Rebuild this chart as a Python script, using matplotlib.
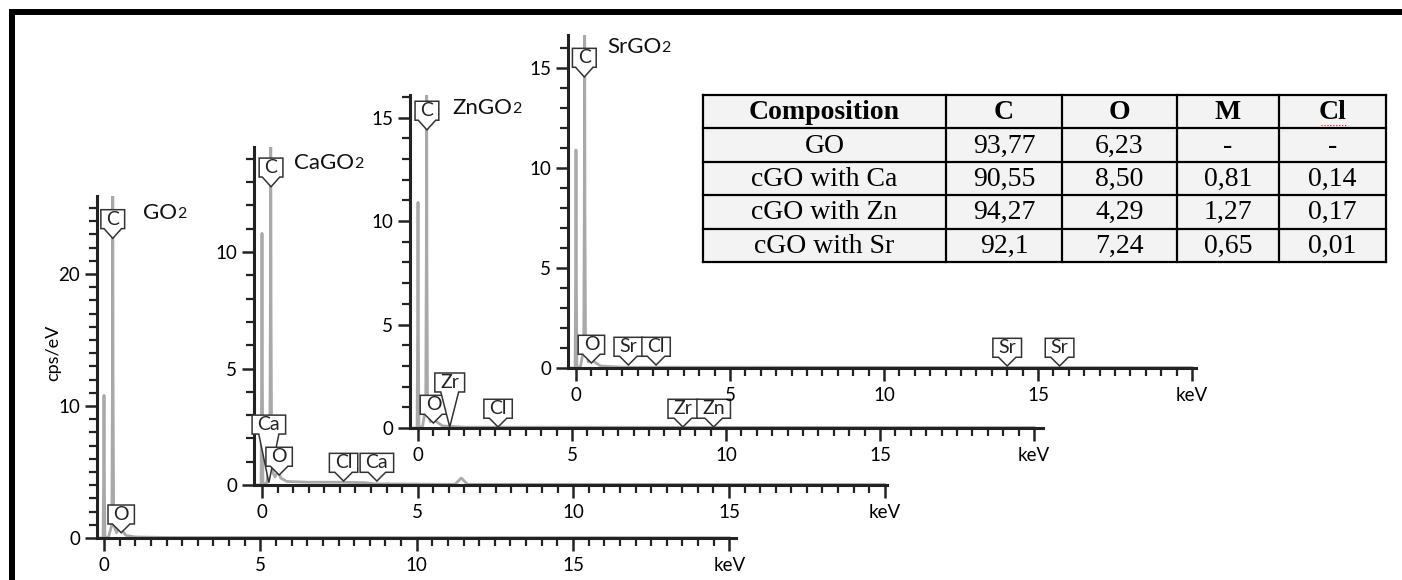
import matplotlib
matplotlib.use("Agg")
import matplotlib.pyplot as plt
from matplotlib.path import Path
from matplotlib.patches import Rectangle
from matplotlib.ticker import MultipleLocator

plt.rcParams['font.family'] = ['Lato', 'DejaVu Sans']

W, H = 1402, 580

# spectra, energy (keV) and counts (cps/eV)
go_e = [-0.2, -0.03, -0.01, 0.0, 0.01, 0.03, 0.15, 0.25, 0.27, 0.28, 0.29, 0.31, 0.4, 0.47, 0.52, 0.57, 0.7, 1.0, 2.0, 20.0]
go_c = [0.0, 0.0, 5.0, 10.8, 5.0, 0.0, 0.1, 1.0, 12.0, 30.0, 12.0, 1.0, 0.4, 0.7, 0.9, 0.6, 0.2, 0.08, 0.04, 0.02]

ca_e = [-0.2, -0.03, -0.01, 0.0, 0.01, 0.03, 0.15, 0.25, 0.27, 0.28, 0.29, 0.31, 0.36, 0.42, 0.52, 0.6, 0.8, 1.5, 2.5, 3.3, 3.6, 6.2, 6.4, 6.6, 20.0]
ca_c = [0.0, 0.0, 5.0, 10.8, 5.0, 0.0, 0.1, 1.0, 8.0, 20.0, 8.0, 1.0, 0.5, 0.35, 0.6, 0.3, 0.15, 0.12, 0.12, 0.1, 0.05, 0.03, 0.3, 0.03, 0.02]

zn_e = [-0.2, -0.03, -0.01, 0.0, 0.01, 0.03, 0.15, 0.25, 0.27, 0.28, 0.29, 0.31, 0.4, 0.47, 0.52, 0.6, 0.8, 1.5, 20.0]
zn_c = [0.0, 0.0, 5.0, 10.9, 5.0, 0.0, 0.1, 1.0, 8.0, 20.0, 8.0, 1.0, 0.3, 0.45, 0.5, 0.3, 0.1, 0.04, 0.02]

sr_e = [-0.2, -0.03, -0.01, 0.0, 0.01, 0.03, 0.15, 0.25, 0.27, 0.28, 0.29, 0.31, 0.4, 0.47, 0.52, 0.6, 0.8, 1.5, 20.0]
sr_c = [0.0, 0.0, 5.0, 10.9, 5.0, 0.0, 0.1, 1.0, 8.0, 20.0, 8.0, 1.0, 0.3, 0.4, 0.45, 0.3, 0.1, 0.04, 0.02]

# peak markers: symbol, energy, tip height, tail length
go_lab = [('C', 0.28, 22.7, 0.5), ('O', 0.55, 0.4, 0.45)]
ca_lab = [('C', 0.29, 12.8, 0.5), ('Ca', 0.22, 0.1, 2.5), ('O', 0.55, 0.43, 0.45),
          ('Cl', 2.62, 0.17, 0.45), ('Ca', 3.69, 0.17, 0.45)]
zn_lab = [('C', 0.29, 14.4, 0.5), ('O', 0.5, 0.24, 0.45), ('Zr', 1.03, 0.05, 1.8),
          ('Cl', 2.6, 0.05, 0.45), ('Zr', 8.6, 0.05, 0.45), ('Zn', 9.6, 0.05, 0.45)]
sr_lab = [('C', 0.27, 14.55, 0.5), ('O', 0.5, 0.25, 0.45), ('Sr', 1.7, 0.15, 0.45),
          ('Cl', 2.6, 0.15, 0.45), ('Sr', 14.0, 0.1, 0.45), ('Sr', 15.7, 0.1, 0.45)]

# table
tab_head = ['Composition', 'C', 'O', 'M', 'Cl']
tab_name = ['GO', 'cGO with Ca', 'cGO with Zn', 'cGO with Sr']
tab_c = ['93,77', '90,55', '94,27', '92,1']
tab_o = ['6,23', '8,50', '4,29', '7,24']
tab_m = ['-', '0,81', '1,27', '0,65']
tab_cl = ['-', '0,14', '0,17', '0,01']

PADX, PADY = 0.28, 0.05


def callout(tail):
    def style(x0, y0, w, h, ms):
        x0, w = x0 - PADX * ms, w + 2 * PADX * ms
        y0, h = y0 - PADY * ms, h + 2 * PADY * ms
        xm = x0 + w / 2
        if tail > 1:
            half = 0.3 * w
        else:
            half = min(w / 2, 0.45 * ms)
        v = [(x0, y0 + h), (x0, y0), (xm - half, y0), (xm, y0 - tail * ms),
             (xm + half, y0), (x0 + w, y0), (x0 + w, y0 + h), (x0, y0 + h)]
        return Path(v, closed=True)
    return style


fig = plt.figure(figsize=(W / 100, H / 100), dpi=100)

# pixel layout of each spectrum: y-axis x, zero y, axis end x, top y, 0 keV x, 15 keV x, px per count
panels = [
    (go_e, go_c, go_lab, 'GO', (97, 538, 736, 196, 104, 573, 13.2), [0, 10, 20], (143, 213), True),
    (ca_e, ca_c, ca_lab, 'CaGO', (254, 485, 887, 147, 262, 729, 23.3), [0, 5, 10], (294, 163), False),
    (zn_e, zn_c, zn_lab, 'ZnGO', (410, 428, 1043, 95, 418, 880, 20.7), [0, 5, 10, 15], (452, 108), False),
    (sr_e, sr_c, sr_lab, 'SrGO', (568, 368, 1196, 35, 576, 1038, 20.0), [0, 5, 10, 15], (607, 47), False),
]

for e, c, labs, title, lay, yt, tpos, ylab in panels:
    ax_x, y0, x_end, y_top, k0, k15, ypx = lay
    ax = fig.add_axes([ax_x / W, 1 - y0 / H, (x_end - ax_x) / W, (y0 - y_top) / H])
    ax.set_facecolor('none')
    pxk = (k15 - k0) / 15
    ax.set_xlim((ax_x - k0) / pxk, (x_end - k0) / pxk)
    ax.set_ylim(0, (y0 - y_top) / ypx)
    ax.plot(e, c, color='#a9a9a9', lw=2.0, zorder=1)
    for s in ['top', 'right']:
        ax.spines[s].set_visible(False)
    for s in ['left', 'bottom']:
        ax.spines[s].set_linewidth(2.2)
        ax.spines[s].set_color('#222222')
    ax.set_xticks([0, 5, 10, 15, 20])
    ax.set_xticklabels(['0', '5', '10', '15', 'keV'])
    ax.xaxis.set_minor_locator(MultipleLocator(0.5))
    ax.set_yticks(yt)
    ax.yaxis.set_minor_locator(MultipleLocator(1))
    ax.tick_params(which='major', length=9, width=1.8, labelsize=13.5, color='#222222', pad=3)
    ax.tick_params(which='minor', length=6, width=1.6, color='#222222')
    ax.tick_params(axis='x', which='major', pad=5)
    for sym, en, tip, tail in labs:
        fs = 14
        ax.annotate(sym, xy=(en, tip), xytext=(0, (PADY + tail) * fs), textcoords='offset points',
                    ha='center', va='bottom', fontsize=fs, color='#222222', annotation_clip=False,
                    bbox=dict(boxstyle=callout(tail), fc='white', ec='#333333', lw=1.1), zorder=5)
    t = fig.text(tpos[0] / W, 1 - tpos[1] / H, title, fontsize=16, va='center', ha='left', color='#111111')
    ax.annotate('2', xy=(1, 0.08), xycoords=t, va='bottom', ha='left', fontsize=11.5,
                color='#111111', annotation_clip=False)
    if ylab:
        fig.text(53 / W, 1 - 353 / H, 'cps/eV', rotation=90, fontsize=13, ha='center', va='center')

# composition table
tab = fig.add_axes([703 / W, 1 - 262 / H, 683 / W, 167 / H])
tab.set_xlim(0, 683)
tab.set_ylim(167, 0)
tab.axis('off')
col_edges = [0, 243, 359, 474, 576, 683]
row_h = 167 / 5
tab.add_patch(Rectangle((0, 0), 683, 167, fc='#f3f3f3', ec='none'))
for x in col_edges:
    tab.plot([x, x], [0, 167], color='black', lw=1.6, clip_on=False)
for r in range(6):
    tab.plot([0, 683], [r * row_h, r * row_h], color='black', lw=1.6, clip_on=False)
rows = [tab_head] + [list(z) for z in zip(tab_name, tab_c, tab_o, tab_m, tab_cl)]
for r, row in enumerate(rows):
    for k, txt in enumerate(row):
        xc = (col_edges[k] + col_edges[k + 1]) / 2
        tab.text(xc, (r + 0.5) * row_h + 1, txt, ha='center', va='center', fontsize=20,
                 family='Liberation Serif', weight='bold' if r == 0 else 'normal')
tab.plot([618, 644], [30, 30], color='red', lw=0.8, ls=':')

# outer frame
fig.add_artist(Rectangle((12 / W, -0.2), 1.5, 1.2 - 12 / H, transform=fig.transFigure,
                         fill=False, ec='black', lw=4.3))

fig.savefig('out.png', dpi=100)
